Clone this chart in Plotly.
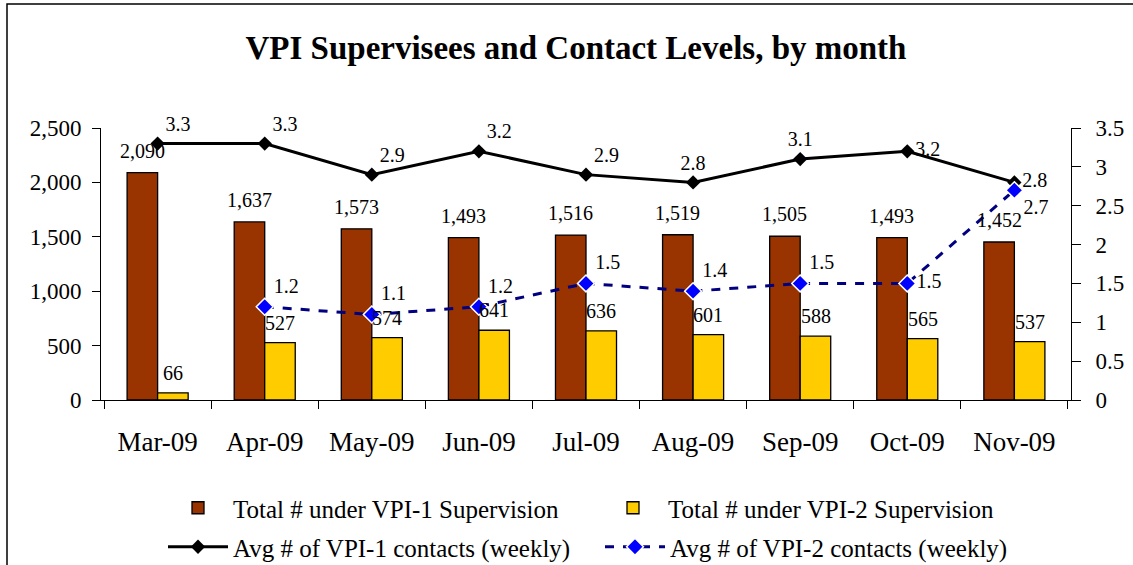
import plotly.graph_objects as go

# ---- data ----
months = ["Mar-09", "Apr-09", "May-09", "Jun-09", "Jul-09", "Aug-09", "Sep-09", "Oct-09", "Nov-09"]
vpi1_total = [2090, 1637, 1573, 1493, 1516, 1519, 1505, 1493, 1452]
vpi2_total = [66, 527, 574, 641, 636, 601, 588, 565, 537]
vpi1_avg = [3.3, 3.3, 2.9, 3.2, 2.9, 2.8, 3.1, 3.2, 2.8]
vpi2_avg = [None, 1.2, 1.1, 1.2, 1.5, 1.4, 1.5, 1.5, 2.7]
left_ticks = [0, 500, 1000, 1500, 2000, 2500]
right_ticks = [0, 0.5, 1, 1.5, 2, 2.5, 3, 3.5]
right_tick_text = ["0", "0.5", "1", "1.5", "2", "2.5", "3", "3.5"]

names = ["Total # under VPI-1 Supervision", "Total # under VPI-2 Supervision",
         "Avg # of VPI-1 contacts (weekly)", "Avg # of VPI-2 contacts (weekly)"]

# label placement (style, not data)
vpi1_label_pos = ["top right", "top right", "top right", "top right", "top right",
                  "top center", "top center", "middle right", "middle right"]
vpi2_label_pos = ["top right", "top right", "top right", "top right", "top right",
                  "top right", "top right", "middle right", "bottom right"]

# ---- layout constants ----
W, H = 1133, 565
ML, MR, MT, MB = 101, 62, 128, 165
PW = W - ML - MR
PH = H - MT - MB
BARGAP = 0.43
FONT = "Liberation Serif, Times New Roman, serif"

cat_px = PW / len(months)
bar_px = cat_px * (1 - BARGAP) / 2

fig = go.Figure()
fig.add_trace(go.Bar(x=months, y=vpi1_total, name=names[0],
                     marker=dict(color="#993300", line=dict(color="black", width=1.3)),
                     legend="legend"))
fig.add_trace(go.Bar(x=months, y=vpi2_total, name=names[1],
                     marker=dict(color="#FFCC00", line=dict(color="black", width=1.3)),
                     legend="legend"))
fig.add_trace(go.Scatter(x=months, y=vpi1_avg, name=names[2], yaxis="y2",
                         mode="lines+markers+text", texttemplate="%{y}",
                         textposition=vpi1_label_pos,
                         textfont=dict(family=FONT, size=20, color="black"),
                         line=dict(color="black", width=3),
                         marker=dict(symbol="diamond", size=11, color="black"),
                         legend="legend2", cliponaxis=False))
fig.add_trace(go.Scatter(x=months, y=vpi2_avg, name=names[3], yaxis="y2",
                         mode="lines+markers+text", texttemplate="%{y}",
                         textposition=vpi2_label_pos,
                         textfont=dict(family=FONT, size=20, color="black"),
                         line=dict(color="#000080", width=3, dash="dash"),
                         marker=dict(symbol="diamond", size=13, color="#0000FF",
                                     line=dict(color="white", width=1.5)),
                         legend="legend2", cliponaxis=False))

annotations = []
for m, v in zip(months, vpi1_total):
    annotations.append(dict(x=m, y=v, xref="x", yref="y", text=f"{v:,}", showarrow=False,
                            xshift=-bar_px / 2, yshift=22,
                            font=dict(family=FONT, size=20, color="black")))
for m, v in zip(months, vpi2_total):
    annotations.append(dict(x=m, y=v, xref="x", yref="y", text=f"{v:,}", showarrow=False,
                            xshift=bar_px / 2, yshift=20,
                            font=dict(family=FONT, size=20, color="black")))

def px_x(p):
    return (p - ML) / PW

def px_y(p):
    return (H - MB - p) / PH

TEXTGAP = 70  # itemwidth 60 + 2*5

fig.update_layout(
    width=W, height=H,
    margin=dict(l=ML, r=MR, t=MT, b=MB, autoexpand=False),
    paper_bgcolor="white", plot_bgcolor="white",
    barmode="group", bargap=BARGAP, bargroupgap=0,
    font=dict(family=FONT, color="black"),
    title=dict(text="<b>VPI Supervisees and Contact Levels, by month</b>",
               x=576 / W, xref="container", xanchor="center",
               y=1 - 47 / H, yref="container", yanchor="middle",
               font=dict(family=FONT, size=33, color="black")),
    xaxis=dict(type="category", tickson="boundaries", ticks="outside", ticklen=8,
               tickcolor="black", showline=True, linecolor="black", linewidth=1,
               showgrid=False, zeroline=False, ticklabelstandoff=18, automargin=False,
               tickfont=dict(family=FONT, size=27, color="black")),
    yaxis=dict(range=[0, 2500], tickvals=left_ticks, tickformat=",", ticks="outside",
               ticklen=8, tickcolor="black", showline=True, linecolor="black", linewidth=1,
               showgrid=False, zeroline=False, ticklabelstandoff=6, automargin=False,
               tickfont=dict(family=FONT, size=23, color="black")),
    yaxis2=dict(range=[0, 3.5], tickvals=right_ticks, ticktext=right_tick_text,
                overlaying="y", side="right", ticks="outside", ticklen=9,
                tickcolor="black", showline=True, linecolor="black", linewidth=1,
                showgrid=False, zeroline=False, ticklabelstandoff=10, automargin=False,
                tickfont=dict(family=FONT, size=23, color="black")),
    yaxis3=dict(range=[0, 3.5], tickvals=right_ticks, overlaying="y", side="right",
                anchor="x", ticks="inside", ticklen=9, tickcolor="black", automargin=False,
                showticklabels=False, showgrid=False, zeroline=False, showline=False),
    yaxis4=dict(range=[0, 2500], tickvals=left_ticks, overlaying="y", side="left",
                anchor="x", ticks="inside", ticklen=4, tickcolor="black", automargin=False,
                showticklabels=False, showgrid=False, zeroline=False, showline=False),
    xaxis2=dict(range=[-0.5, len(months) - 0.5], tick0=-0.5, dtick=1, overlaying="x",
                anchor="y", side="bottom", ticks="inside", ticklen=8, tickcolor="black",
                automargin=False,
                showticklabels=False, showgrid=False, zeroline=False, showline=False),
    legend=dict(orientation="h", x=px_x(163), xanchor="left", y=px_y(508), yanchor="middle",
                entrywidth=430 - TEXTGAP, entrywidthmode="pixels", itemwidth=60,
                font=dict(family=FONT, size=25, color="black"), bgcolor="rgba(0,0,0,0)",
                traceorder="normal"),
    legend2=dict(orientation="h", x=px_x(163), xanchor="left", y=px_y(547), yanchor="middle",
                 entrywidth=432 - TEXTGAP, entrywidthmode="pixels", itemwidth=60,
                 font=dict(family=FONT, size=25, color="black"), bgcolor="rgba(0,0,0,0)",
                 traceorder="normal"),
    annotations=annotations,
    shapes=[dict(type="rect", xref="paper", yref="paper",
                 x0=px_x(7), x1=px_x(W + 20), y0=px_y(H + 20), y1=px_y(4),
                 line=dict(color="black", width=1.5), fillcolor="rgba(0,0,0,0)", layer="below")],
)

fig.write_html("out.html", config={"displayModeBar": False},
               post_script="document.body.style.margin='0';document.body.style.overflow='hidden';")
